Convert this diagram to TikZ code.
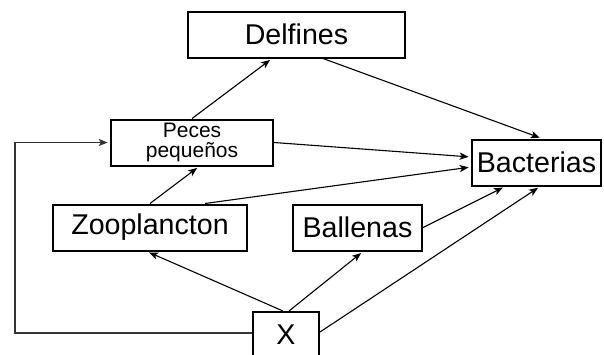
\documentclass[tikz,border=0pt]{standalone}
\usepackage{fontspec}
\setmainfont{Liberation Sans}
\usetikzlibrary{arrows.meta}

\begin{document}
\begin{tikzpicture}[x=0.5pt, y=-0.5pt,
    box/.style={draw, line width=1pt, inner sep=0pt, minimum height=23pt,
      font=\fontsize{14.3}{16}\selectfont},
    link/.style={-{Stealth[length=4.5pt, width=3.6pt, inset=1.2pt]}, line width=0.55pt, shorten >=1.2pt}]
  \useasboundingbox (0, 0) rectangle (604, 354);

  \node[box, minimum width=108.5pt] (delf) at (296.5, 34.5) {Delfines};
  \node[box, minimum width=81pt, align=center,
    font=\fontsize{10.5}{9.6}\selectfont] (peces) at (192, 142.5) {Peces\\pequeños};
  \node[box, minimum width=64.5pt] (bact) at (536.5, 162.5) {Bacterias};
  \node[box, minimum width=97pt] (zoo) at (150, 227.5) {Zooplancton};
  \node[box, minimum width=64.5pt] (ball) at (357.5, 227.5) {Ballenas};
  \node[box, minimum width=33pt] (x) at (286, 335) {X};

  \draw[link] (peces.north) -- ([xshift=-12.25pt]delf.south);
  \draw[link] ([xshift=13.25pt]delf.south) -- ([xshift=2.75pt]bact.north);
  \draw[link] (peces.east) -- ([yshift=2.75pt]bact.west);
  \draw[link] ([xshift=27.5pt]zoo.north) -- ([yshift=-2.25pt]bact.west);
  \draw[link] (zoo.north) -- ([xshift=3.5pt]peces.south);
  \draw[link] (ball.east) -- ([xshift=-15.75pt]bact.south);
  \draw[link] ([yshift=1.5pt]x.east) -- ([xshift=1.75pt]bact.south);
  \draw[link] ([xshift=-1.5pt]x.north) -- ([xshift=-1.5pt]zoo.south);
  \draw[link] ([xshift=1.5pt]x.north) -- ([xshift=2.75pt]ball.south);

  % back loop
  \coordinate (bend) at (15, 333);
  \draw[link, black!80] ([yshift=1pt]x.west) -- (bend) |- (peces.west);
\end{tikzpicture}
\end{document}
